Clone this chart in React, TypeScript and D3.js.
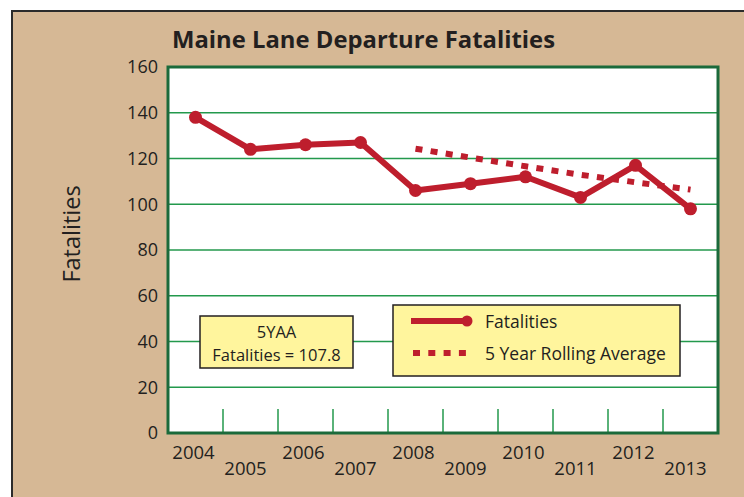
import React from 'react';
import * as d3 from 'd3';

// chart values
const years = ['2004', '2005', '2006', '2007', '2008', '2009', '2010', '2011', '2012', '2013'];
const fatalities = [138, 124, 126, 127, 106, 109, 112, 103, 117, 98];
const avgYears = ['2008', '2009', '2010', '2011', '2012', '2013'];
const rollingAvg = [124.3, 120.4, 116.6, 112.9, 109.6, 106.4];
const yTicks = [0, 20, 40, 60, 80, 100, 120, 140, 160];
const noteLines = ['5YAA', 'Fatalities = 107.8'];
const legendLabels = ['Fatalities', '5 Year Rolling Average'];

const W = 744;
const H = 497;
const font = '"Open Sans", "Noto Sans", sans-serif';
const red = '#be1e2d';
const tan = '#d6b895';
const grid = '#23994c';
const frame = '#1b6a3b';
const ink = '#231f20';

const App = () => {
  const margin = { top: 67, right: 26, bottom: 64, left: 168 };

  const x = d3.scaleBand()
    .domain(years)
    .range([margin.left, W - margin.right])
    .padding(0);

  const y = d3.scaleLinear()
    .domain([0, 160])
    .range([H - margin.bottom, margin.top]);

  const cx = (d: string) => (x(d) as number) + x.bandwidth() / 2;

  const line = d3.line<number>()
    .x((d, i) => cx(years[i]))
    .y(d => y(d));

  const avgLine = d3.line<number>()
    .x((d, i) => cx(avgYears[i]))
    .y(d => y(d));

  const left = margin.left;
  const right = W - margin.right;
  const bottom = y(0);

  return (
    <svg width={W} height={H} style={{ display: 'block', position: 'absolute', left: 0, top: 0 }}>
      <rect x={0} y={0} width={W} height={H} fill="#fff" />
      <rect x={12} y={11} width={W + 20} height={H + 20} fill={tan} stroke="#2b2b2b" strokeWidth={2} />

      <text x={172} y={48} fontFamily={font} fontWeight={700} fontSize={23} fill={ink}
        textLength={383} lengthAdjust="spacingAndGlyphs">
        Maine Lane Departure Fatalities
      </text>

      <rect x={left} y={y(160)} width={right - left} height={bottom - y(160)} fill="#fff" />

      {yTicks.filter(t => t > 0 && t < 160).map(t => (
        <line key={t} x1={left} x2={right} y1={y(t)} y2={y(t)} stroke={grid} strokeWidth={1.5} />
      ))}

      {years.slice(1).map(yr => (
        <line key={yr} x1={x(yr)} x2={x(yr)} y1={bottom} y2={bottom - 24} stroke={grid} strokeWidth={1.5} />
      ))}

      <rect x={left} y={y(160)} width={right - left} height={bottom - y(160)} fill="none"
        stroke={frame} strokeWidth={3} />

      {yTicks.map(t => (
        <text key={t} x={158} y={y(t)} dy="0.36em" textAnchor="end" fontFamily={font}
          fontSize={18} fill={ink}>{t}</text>
      ))}

      {years.map((yr, i) => (
        <text key={yr} x={cx(yr) + (i % 2 === 0 ? -2 : -5)} y={i % 2 === 0 ? 459 : 475}
          textAnchor="middle" fontFamily={font} fontSize={18.5} fill={ink}>{yr}</text>
      ))}

      <text transform={`translate(80,234) rotate(-90)`} textAnchor="middle" fontFamily={font}
        fontSize={23.5} fill={ink}>Fatalities</text>

      <path d={avgLine(rollingAvg) || ''} fill="none" stroke={red} strokeWidth={6}
        strokeDasharray="7 8.3" />

      <path d={line(fatalities) || ''} fill="none" stroke={red} strokeWidth={6}
        strokeLinejoin="round" />
      {fatalities.map((v, i) => (
        <circle key={years[i]} cx={cx(years[i])} cy={y(v)} r={6.5} fill={red} />
      ))}

      <rect x={200} y={316} width={153} height={52} fill="#fff59d" stroke={ink} strokeWidth={1.5} />
      {noteLines.map((t, i) => (
        <text key={t} x={276.5} y={338 + i * 22.5} textAnchor="middle" fontFamily={font}
          fontSize={16.5} fill={ink}>{t}</text>
      ))}

      <rect x={393} y={305} width={287} height={71} fill="#fff59d" stroke={ink} strokeWidth={1.5} />
      <line x1={411} x2={467} y1={321} y2={321} stroke={red} strokeWidth={6} />
      <circle cx={467} cy={321} r={5.5} fill={red} />
      <line x1={413} x2={468} y1={353} y2={353} stroke={red} strokeWidth={6} strokeDasharray="7 8.3" />
      {legendLabels.map((t, i) => (
        <text key={t} x={485} y={328 + i * 31.5} fontFamily={font} fontSize={17.5} fill={ink}>{t}</text>
      ))}
    </svg>
  );
};

export default App;
